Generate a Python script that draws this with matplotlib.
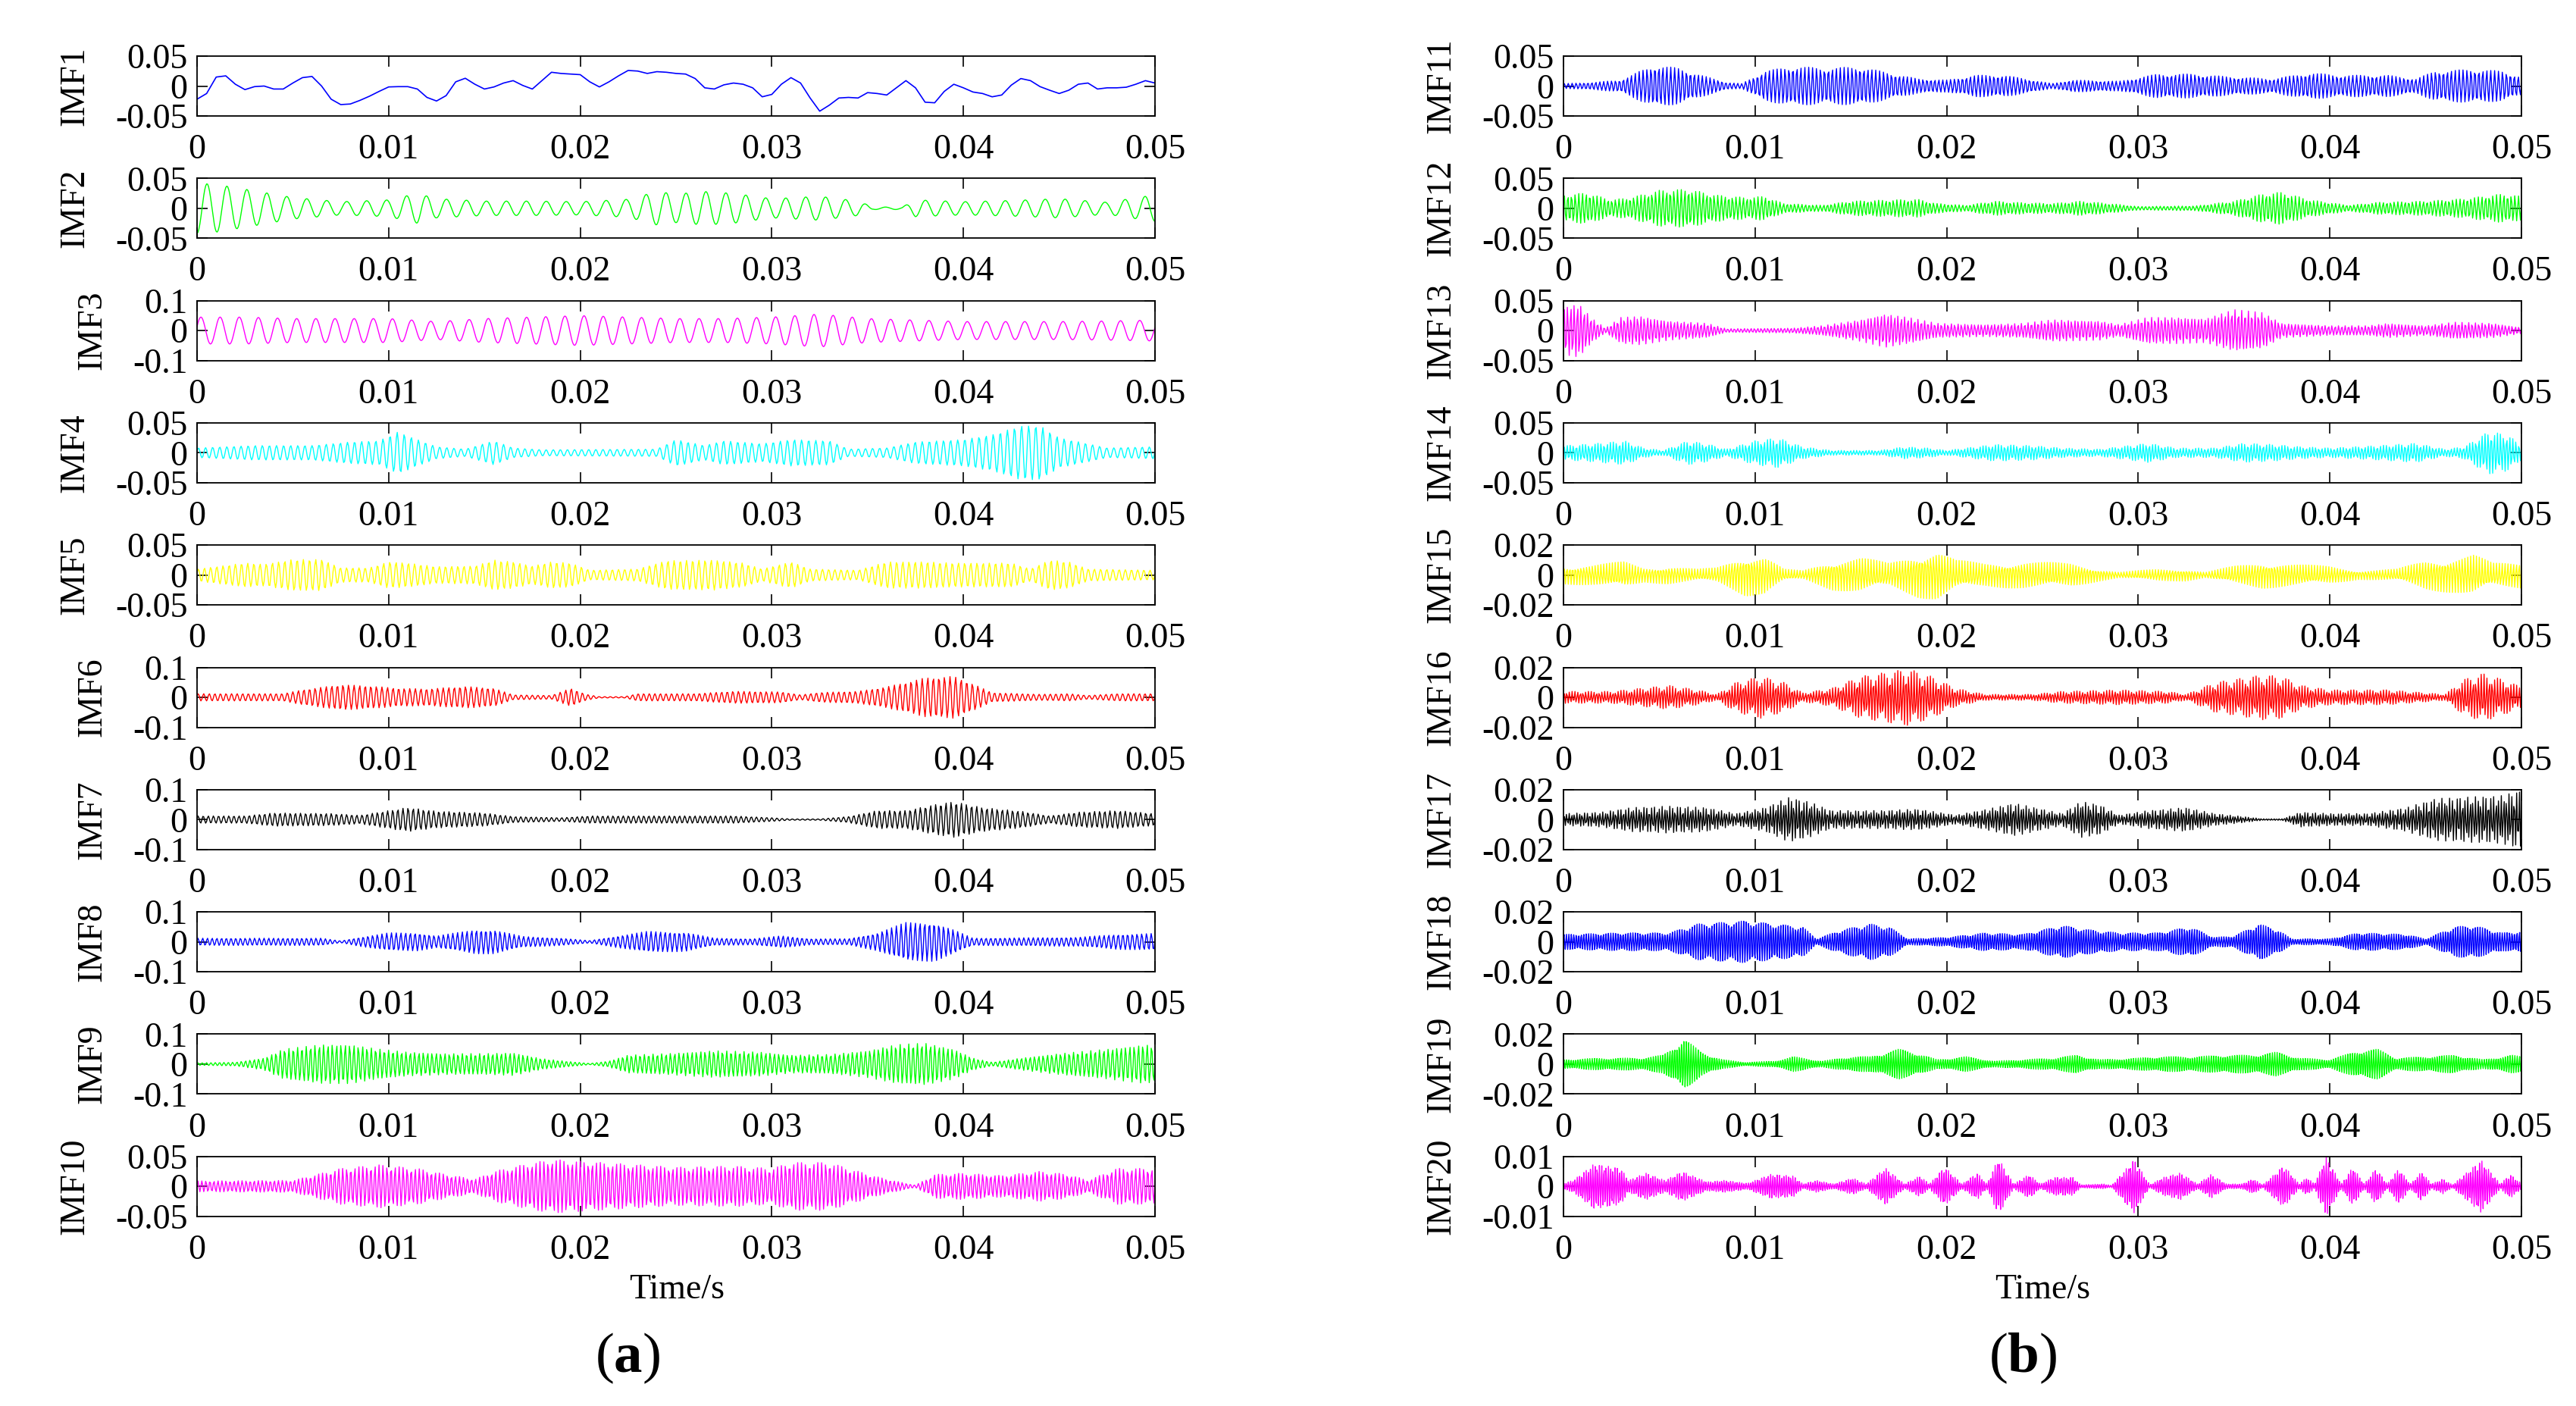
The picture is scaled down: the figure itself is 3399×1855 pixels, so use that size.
import numpy as np
import matplotlib.pyplot as plt

plt.rcParams['font.family'] = ['Liberation Serif', 'DejaVu Serif']
plt.rcParams['mathtext.fontset'] = 'custom'
plt.rcParams['mathtext.rm'] = 'Liberation Serif'
plt.rcParams['mathtext.bf'] = 'Liberation Serif:bold'
plt.rcParams['axes.unicode_minus'] = False

# IMF1 read every 0.5 ms (0 .. 50 ms)
imf1 = [-0.022, -0.0125, 0.015, 0.017, 0.003, -0.006, -0.001, 0.0, -0.005, -0.005,
        0.005, 0.014, 0.016, 0.0, -0.022, -0.031, -0.03, -0.024, -0.017, -0.009,
        -0.0015, -0.001, -0.001, -0.005, -0.019, -0.025, -0.016, 0.007, 0.013, 0.003,
        -0.005, -0.0015, 0.005, 0.009, 0.001, -0.005, 0.009, 0.023, 0.021, 0.02,
        0.019, 0.007, -0.0015, 0.007, 0.017, 0.026, 0.025, 0.021, 0.024, 0.023,
        0.021, 0.02, 0.0125, -0.003, -0.005, 0.002, 0.005, 0.003, -0.003, -0.018,
        -0.014, 0.003, 0.014, 0.005, -0.02, -0.042, -0.032, -0.02, -0.019, -0.02,
        -0.011, -0.0125, -0.015, -0.003, 0.009, -0.003, -0.027, -0.028, -0.009, 0.003,
        -0.003, -0.01, -0.0125, -0.018, -0.015, 0.0015, 0.0125, 0.009, -0.001, -0.007,
        -0.0125, -0.007, 0.003, 0.005, -0.005, -0.003, -0.003, -0.002, 0.003, 0.009,
        0.005]

# IMF2..IMF20: envelope knots (ms, amplitude)
env_t2 = [0, 1, 2.5, 5, 7.5, 10, 11.5, 12.5, 15, 17.5, 20, 22.5, 24, 25, 26.5, 28, 30,
          32.5, 34.5, 35.3, 36.8, 37.5, 40, 42.5, 45, 47.5, 49.5, 50]
env_a2 = [0.042, 0.04, 0.032, 0.018, 0.011, 0.014, 0.025, 0.016, 0.012, 0.012, 0.011,
          0.015, 0.028, 0.024, 0.028, 0.025, 0.016, 0.02, 0.012, 0.002, 0.002, 0.014,
          0.011, 0.013, 0.016, 0.01, 0.02, 0.022]

env_t3 = [0, 2.5, 5, 10, 12.5, 15, 17.5, 20, 22.5, 25, 27.5, 30, 32.5, 35, 37.5, 40, 45,
          47.5, 50]
env_a3 = [0.045, 0.045, 0.04, 0.04, 0.03, 0.04, 0.045, 0.05, 0.045, 0.04, 0.04, 0.045,
          0.055, 0.04, 0.035, 0.03, 0.03, 0.032, 0.035]

env_t4 = [0, 3, 6, 8, 9.5, 10.5, 11.5, 12.5, 14, 15.5, 16.5, 18, 24, 25, 26.5, 27.5, 29.5,
          31, 33, 34, 36, 37.5, 40, 41.5, 43, 44, 45, 46.5, 47.5, 50]
env_a4 = [0.008, 0.012, 0.012, 0.018, 0.02, 0.035, 0.022, 0.01, 0.006, 0.02, 0.008, 0.005,
          0.006, 0.022, 0.012, 0.02, 0.015, 0.022, 0.02, 0.006, 0.008, 0.018, 0.022, 0.03,
          0.045, 0.045, 0.025, 0.015, 0.008, 0.01]

env_t5 = [0, 2.5, 3.5, 5, 6.5, 7.5, 9, 10, 11, 12.5, 14.5, 15.5, 16.5, 17.5, 18.5, 19.5,
          20.5, 23, 24.5, 27, 28.5, 29.5, 31, 32, 34.5, 36, 38, 39.5, 42.5, 43.5, 44.5,
          45.5, 46.5, 50]
env_a5 = [0.01, 0.02, 0.018, 0.026, 0.026, 0.012, 0.012, 0.022, 0.02, 0.014, 0.015, 0.025,
          0.022, 0.015, 0.022, 0.02, 0.008, 0.01, 0.024, 0.025, 0.02, 0.01, 0.022, 0.01,
          0.008, 0.022, 0.022, 0.02, 0.02, 0.01, 0.025, 0.022, 0.01, 0.008]

env_t6 = [0, 4.5, 5.5, 7.5, 9, 10.5, 12, 14, 15.5, 16.5, 18.5, 19.5, 20.3, 21, 22.3, 23,
          26, 28, 30.5, 31.5, 32.5, 34.5, 36, 38, 39.5, 40.5, 41.5, 44, 45.5, 46.5, 48, 50]
env_a6 = [0.012, 0.012, 0.025, 0.042, 0.038, 0.03, 0.028, 0.036, 0.03, 0.008, 0.006, 0.03,
          0.01, 0.002, 0.002, 0.012, 0.012, 0.02, 0.018, 0.008, 0.016, 0.02, 0.035, 0.065,
          0.07, 0.045, 0.015, 0.01, 0.012, 0.006, 0.012, 0.012]

env_t7 = [0, 2.5, 4, 7, 8.5, 10, 11, 12.5, 15, 16.5, 19, 20.5, 28, 30, 31, 32.5, 34, 35.5,
          37, 38.5, 39.5, 41, 43, 44.5, 46, 48, 50]
env_a7 = [0.012, 0.012, 0.022, 0.02, 0.014, 0.03, 0.04, 0.028, 0.022, 0.01, 0.006, 0.012,
          0.012, 0.006, 0.002, 0.002, 0.01, 0.03, 0.03, 0.05, 0.06, 0.04, 0.028, 0.012,
          0.025, 0.03, 0.02]

env_t8 = [0, 6.5, 7.5, 8.5, 10, 11.5, 12.5, 14.5, 15.5, 17, 19, 20.5, 22, 23.5, 25.5, 27,
          29, 30.5, 32, 34, 35.5, 37, 38.5, 39.5, 40.5, 46, 48, 50]
env_a8 = [0.012, 0.012, 0.003, 0.015, 0.03, 0.03, 0.02, 0.04, 0.04, 0.018, 0.012, 0.004,
          0.02, 0.035, 0.032, 0.012, 0.01, 0.02, 0.01, 0.01, 0.03, 0.065, 0.065, 0.04,
          0.012, 0.015, 0.025, 0.028]

env_t9 = [0, 2, 3.5, 4.5, 6.5, 8, 9.5, 11, 13, 15, 16.5, 18, 19.5, 20.5, 21.5, 22.5, 24.5,
          27, 29.5, 31, 33, 35, 36.5, 38, 39.5, 40.5, 41.5, 43, 45, 47.5, 49.5, 50]
env_a9 = [0.004, 0.006, 0.02, 0.05, 0.065, 0.065, 0.05, 0.04, 0.035, 0.035, 0.038, 0.018,
          0.008, 0.002, 0.01, 0.03, 0.035, 0.045, 0.04, 0.03, 0.032, 0.045, 0.065, 0.07,
          0.05, 0.02, 0.006, 0.02, 0.035, 0.05, 0.065, 0.06]

env_t10 = [0, 5, 6, 7.5, 9.5, 11.5, 13, 14.5, 15.5, 17, 18.5, 20, 22, 25, 28, 30, 31, 33,
           34, 35.5, 37, 37.5, 38.5, 40, 42, 44, 45.5, 46.5, 48, 50]
env_a10 = [0.009, 0.01, 0.018, 0.03, 0.036, 0.03, 0.02, 0.012, 0.025, 0.036, 0.045, 0.042,
           0.038, 0.032, 0.034, 0.03, 0.04, 0.04, 0.03, 0.016, 0.005, 0.002, 0.02, 0.022,
           0.018, 0.025, 0.02, 0.01, 0.03, 0.03]

env_t11 = [0, 1.5, 3, 4, 4.8, 6, 7.2, 8.5, 9.3, 10.5, 12, 13.5, 15.5, 17, 18.5, 20, 21.5,
           23, 24.5, 25.5, 26.5, 29, 31, 33, 34.5, 37, 39, 40.5, 43, 44.5, 45.5, 47.5, 49,
           50]
env_a11 = [0.004, 0.006, 0.01, 0.025, 0.035, 0.03, 0.018, 0.006, 0.004, 0.025, 0.033, 0.03,
           0.032, 0.022, 0.012, 0.01, 0.018, 0.018, 0.01, 0.004, 0.01, 0.008, 0.02, 0.02,
           0.016, 0.012, 0.022, 0.018, 0.018, 0.012, 0.025, 0.028, 0.025, 0.015]

env_t12 = [0, 1.2, 2.5, 3.5, 5, 6.5, 8, 9.5, 10.5, 11.5, 13.5, 15, 17, 18.5, 19.5, 21,
           22.5, 23.5, 25.5, 27, 28.5, 30, 33, 35, 36.5, 37.5, 39, 41, 42.5, 45, 47, 49, 50]
env_a12 = [0.022, 0.026, 0.014, 0.018, 0.03, 0.032, 0.022, 0.018, 0.02, 0.008, 0.005, 0.012,
           0.014, 0.015, 0.008, 0.005, 0.012, 0.01, 0.008, 0.012, 0.008, 0.003, 0.004,
           0.012, 0.024, 0.027, 0.014, 0.005, 0.01, 0.012, 0.016, 0.024, 0.02]

env_t13 = [0, 0.8, 1.5, 2.2, 3, 4, 5.5, 7.5, 8.5, 12, 13.5, 15.5, 16.8, 18, 19.5, 22, 24,
           25.5, 28, 29, 30.5, 32, 33.5, 35, 36.5, 37.5, 40, 42, 43, 45, 46.5, 48.5, 50]
env_a13 = [0.04, 0.045, 0.02, 0.004, 0.022, 0.024, 0.016, 0.012, 0.003, 0.004, 0.008, 0.018,
           0.028, 0.022, 0.012, 0.01, 0.012, 0.018, 0.016, 0.01, 0.022, 0.022, 0.02, 0.035,
           0.03, 0.012, 0.008, 0.008, 0.012, 0.008, 0.014, 0.012, 0.005]

env_t14 = [0, 1.5, 3.2, 4.2, 5.2, 6.5, 7.5, 8.5, 10, 11.2, 12.5, 14, 16.5, 17.8, 19, 20,
           22.5, 24.5, 26, 28, 30.5, 32, 34, 35.5, 37, 38.5, 40, 42.5, 44.5, 46, 47, 48.3,
           49.3, 50]
env_a14 = [0.012, 0.015, 0.02, 0.008, 0.004, 0.02, 0.015, 0.006, 0.02, 0.025, 0.01, 0.004,
           0.004, 0.01, 0.008, 0.004, 0.014, 0.012, 0.008, 0.006, 0.016, 0.008, 0.008,
           0.016, 0.014, 0.01, 0.008, 0.012, 0.016, 0.006, 0.01, 0.036, 0.03, 0.012]

env_t15 = [0, 1.5, 3.2, 4.2, 5.5, 7, 8, 9.5, 10.5, 11.5, 12.5, 14, 15.5, 17, 18.5, 19.5,
           20.5, 22, 24, 26.5, 28, 29, 31, 32.5, 33.5, 35, 36.5, 38.5, 40, 41.5, 43.5, 45,
           46.5, 47.5, 48.5, 50]
env_a15 = [0.006, 0.007, 0.009, 0.005, 0.006, 0.004, 0.005, 0.014, 0.013, 0.004, 0.003,
           0.01, 0.012, 0.008, 0.015, 0.017, 0.01, 0.008, 0.009, 0.008, 0.004, 0.002, 0.004,
           0.004, 0.002, 0.006, 0.009, 0.007, 0.006, 0.003, 0.004, 0.01, 0.012, 0.014,
           0.008, 0.009]

env_t16 = [0, 2.5, 4, 5.5, 7, 8, 9, 10.3, 11.5, 12.5, 14, 15.5, 17, 18, 19.2, 20.5, 22,
           24.5, 26, 29, 31.5, 32.5, 34, 36.5, 37.5, 38.5, 40, 43, 45, 46, 47, 48, 49, 50]
env_a16 = [0.004, 0.004, 0.006, 0.008, 0.005, 0.002, 0.01, 0.014, 0.01, 0.003, 0.006, 0.014,
           0.017, 0.019, 0.014, 0.006, 0.002, 0.002, 0.004, 0.005, 0.004, 0.002, 0.01,
           0.015, 0.014, 0.008, 0.005, 0.005, 0.003, 0.002, 0.012, 0.016, 0.012, 0.007]

env_t17 = [0, 2, 3.5, 5.5, 7.5, 9, 10.5, 11.8, 12.8, 14, 16.5, 18.5, 20.5, 22.5, 23.5, 25,
           26, 27, 28, 29, 30.5, 32.5, 34, 35.5, 36.5, 37.5, 38.5, 40, 42, 44, 45.5, 47, 49,
           50]
env_a17 = [0.004, 0.005, 0.008, 0.009, 0.008, 0.004, 0.008, 0.015, 0.012, 0.006, 0.006,
           0.007, 0.003, 0.008, 0.011, 0.007, 0.004, 0.012, 0.01, 0.003, 0.006, 0.008, 0.004,
           0.002, 0.0005, 0.0005, 0.005, 0.004, 0.004, 0.008, 0.014, 0.015, 0.016, 0.02]

env_t18 = [0, 3, 5.5, 7, 9.5, 11, 12.5, 13.2, 14.5, 16, 17, 18, 20, 22, 24, 26, 27.5, 29,
           31, 32.7, 34, 35, 36.3, 37.3, 38, 40, 41.5, 44, 45, 46.5, 47.5, 49, 50]
env_a18 = [0.005, 0.006, 0.006, 0.012, 0.014, 0.012, 0.01, 0.002, 0.008, 0.012, 0.01, 0.002,
           0.003, 0.006, 0.005, 0.011, 0.008, 0.006, 0.006, 0.01, 0.003, 0.004, 0.012,
           0.008, 0.002, 0.002, 0.006, 0.005, 0.002, 0.01, 0.011, 0.006, 0.007]

env_t19 = [0, 2, 4, 5.2, 6.3, 7.2, 8.3, 9.5, 11, 12, 13.5, 15, 16, 17.5, 18.3, 19.5, 21,
           22.5, 24, 25.5, 26.8, 28, 30, 31, 33, 34.5, 36, 37.2, 38.5, 40, 41.5, 42.5, 43.5,
           45, 46.5, 48, 49.5, 50]
env_a19 = [0.003, 0.004, 0.004, 0.006, 0.017, 0.008, 0.003, 0.0012, 0.002, 0.005, 0.002,
           0.005, 0.005, 0.01, 0.008, 0.003, 0.005, 0.002, 0.003, 0.004, 0.006, 0.003,
           0.004, 0.005, 0.005, 0.006, 0.006, 0.008, 0.004, 0.003, 0.009, 0.01, 0.004,
           0.005, 0.006, 0.003, 0.006, 0.005]

env_t20 = [0, 0.5, 1.6, 3, 3.4, 4.3, 5.3, 6.2, 7.5, 8.4, 9.6, 10.8, 12, 12.5, 13.2, 14.1,
           15.1, 15.8, 16.8, 17.8, 18.6, 19.1, 19.9, 20.8, 21.6, 22.1, 22.7, 23.5, 24.3,
           24.9, 25.6, 26.6, 27, 28.2, 28.6, 29.8, 30.6, 31.3, 32.2, 33.1, 33.8, 34.6, 35.4,
           36, 36.5, 37.6, 38.4, 38.8, 39.2, 39.8, 40.6, 41.2, 41.8, 42.4, 43, 43.6, 44.2,
           44.8, 45.3, 45.9, 46.4, 47.9, 48.9, 49.4, 50]
env_a20 = [0.001, 0.002, 0.0075, 0.006, 0.002, 0.0045, 0.002, 0.005, 0.0015, 0.002, 0.001,
           0.004, 0.0035, 0.0008, 0.002, 0.0008, 0.0028, 0.0008, 0.0062, 0.0008, 0.0035,
           0.0008, 0.0065, 0.0008, 0.0045, 0.0008, 0.0095, 0.0008, 0.004, 0.0008, 0.003,
           0.003, 0.0005, 0.0008, 0.0003, 0.009, 0.0005, 0.003, 0.0045, 0.0008, 0.004,
           0.0008, 0.0008, 0.0025, 0.0005, 0.007, 0.0008, 0.003, 0.0008, 0.01, 0.0008,
           0.0065, 0.0008, 0.006, 0.0008, 0.006, 0.0008, 0.005, 0.0008, 0.0025, 0.0005,
           0.0088, 0.0008, 0.004, 0.001]

env_times = [env_t2, env_t3, env_t4, env_t5, env_t6, env_t7, env_t8, env_t9, env_t10,
             env_t11, env_t12, env_t13, env_t14, env_t15, env_t16, env_t17, env_t18,
             env_t19, env_t20]
env_amps = [env_a2, env_a3, env_a4, env_a5, env_a6, env_a7, env_a8, env_a9, env_a10,
            env_a11, env_a12, env_a13, env_a14, env_a15, env_a16, env_a17, env_a18,
            env_a19, env_a20]
# oscillation cycles counted over the 50 ms window (IMF2..IMF20)
cycles = [48, 50, 135, 155, 172, 187, 203, 221, 238,
          243, 262, 287, 311, 337, 353, 371, 389, 407, 431]

names = ['IMF%d' % (i + 1) for i in range(20)]
colors = ['#0000ff', '#00ff00', '#ff00ff', '#00ffff', '#ffff00', '#ff0000', '#000000',
          '#0000ff', '#00ff00', '#ff00ff',
          '#0000ff', '#00ff00', '#ff00ff', '#00ffff', '#ffff00', '#ff0000', '#000000',
          '#0000ff', '#00ff00', '#ff00ff']
ylims = [0.05, 0.05, 0.1, 0.05, 0.05, 0.1, 0.1, 0.1, 0.1, 0.05,
         0.05, 0.05, 0.05, 0.05, 0.02, 0.02, 0.02, 0.02, 0.02, 0.01]
xticks = [0, 0.01, 0.02, 0.03, 0.04, 0.05]
xticklabels = ['0', '0.01', '0.02', '0.03', '0.04', '0.05']

# time grids: 20 kHz for most modes, finer for the fastest ones
t_ms = np.linspace(0, 50, 1001)
t_fast_ms = np.linspace(0, 50, 1601)
t1_ms = np.linspace(0, 50, len(imf1))

fig = plt.figure(figsize=(33.99, 18.55), dpi=100)
W, H = 3399.0, 1855.0
col_x = [260 / W, 2063 / W]
ax_w = 1264 / W
ax_h = 79 / H
fs = 33

for k in range(20):
    col, row = divmod(k, 10)
    top = 74 + 161.3 * row
    ax = fig.add_axes([col_x[col], 1 - (top + 79) / H, ax_w, ax_h])
    if k == 0:
        ax.plot(t1_ms / 1000, imf1, color=colors[k], lw=1.2)
    else:
        tt = t_fast_ms if k >= 17 else t_ms
        env = np.interp(tt, env_times[k - 1], env_amps[k - 1])
        ph = -np.pi / 2 if k == 1 else 0.3
        y = env * np.sin(2 * np.pi * cycles[k - 1] * tt / 50.0 + ph)
        ax.plot(tt / 1000, y, color=colors[k], lw=1.0)
    lim = ylims[k]
    ax.set_xlim(0, 0.05)
    ax.set_ylim(-lim, lim)
    ax.set_xticks(xticks)
    ax.set_xticklabels(xticklabels)
    ax.set_yticks([-lim, 0, lim])
    ax.set_yticklabels(['-%g' % lim, '0', '%g' % lim])
    ax.tick_params(direction='in', top=True, right=True, length=10, width=1.2,
                   labelsize=fs)
    ax.tick_params(axis='x', pad=17)
    ax.tick_params(axis='y', pad=9)
    for sp in ax.spines.values():
        sp.set_linewidth(1.3)
    ax.set_ylabel(names[k], fontsize=fs, labelpad=23)

fig.text(893 / W, 1 - 1702 / H, 'Time/s', fontsize=fs, ha='center', va='center')
fig.text(2695 / W, 1 - 1702 / H, 'Time/s', fontsize=fs, ha='center', va='center')
fig.text(828 / W, 1 - 1792 / H, r'($\mathbf{a}$)', fontsize=54, ha='center', va='center')
fig.text(2669 / W, 1 - 1792 / H, r'($\mathbf{b}$)', fontsize=54, ha='center', va='center')

fig.savefig('out.png', dpi=100, facecolor='white')
